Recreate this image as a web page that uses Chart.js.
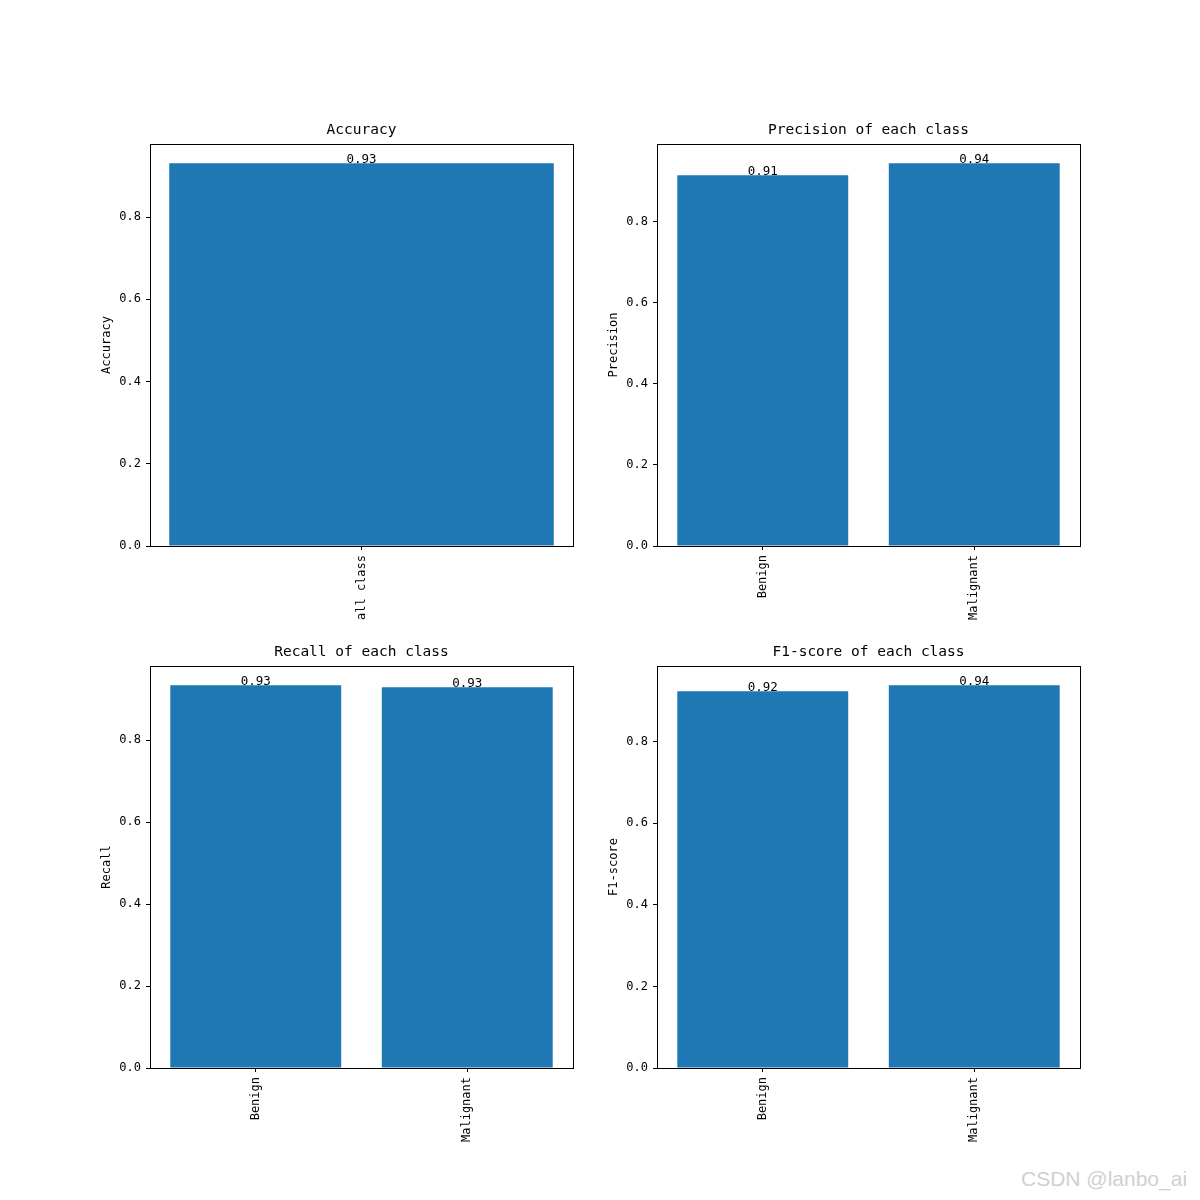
<!DOCTYPE html>
<html>
<head>
<meta charset="utf-8">
<script src="https://cdn.jsdelivr.net/npm/chart.js@4.4.0/dist/chart.umd.min.js"></script>
<style>
  body { margin: 0; background: #fff; }
  #pagina { position: relative; width: 1200px; height: 1200px; background: #fff; }
  canvas { position: absolute; }
  #marca { position: absolute; left: 1021px; top: 1167px; font-family: "Liberation Sans", Arial, sans-serif; font-size: 21px; color: #d0d0d0; }
</style>
</head>
<body>
<div id="pagina">
  <canvas id="g-acc" width="543" height="526" style="left:90px;top:110px"></canvas>
  <canvas id="g-prec" width="543" height="526" style="left:597px;top:110px"></canvas>
  <canvas id="g-rec" width="543" height="526" style="left:90px;top:632px"></canvas>
  <canvas id="g-f1" width="543" height="526" style="left:597px;top:632px"></canvas>
  <div id="marca">CSDN @lanbo_ai</div>
</div>
<script>
// Dados
const classesTodas = ["all class"];
const classes = ["Benign", "Malignant"];
const acuracia = [0.931];
const precisao = [0.914, 0.944];
const revocacao = [0.934, 0.929];
const f1 = [0.924, 0.939];

const azul = "#1f77b4";
Chart.defaults.font.family = "'DejaVu Sans Mono', monospace";
Chart.defaults.color = "#000";

// Caixa em volta da área do gráfico (como o matplotlib)
const caixa = {
    id: "caixa",
    afterDraw(chart) {
        const a = chart.chartArea;
        const ctx = chart.ctx;
        ctx.save();
        ctx.strokeStyle = "#000";
        ctx.lineWidth = 1;
        ctx.strokeRect(Math.round(a.left) + 0.5, Math.round(a.top) + 0.5,
            Math.round(a.right - a.left), Math.round(a.bottom - a.top));
        ctx.restore();
    }
};

// Valores em cima das barras
const rotulos = {
    id: "rotulos",
    afterDatasetsDraw(chart) {
        const ctx = chart.ctx;
        const meta = chart.getDatasetMeta(0);
        const valores = chart.data.datasets[0].data;
        ctx.save();
        ctx.font = "12.5px 'DejaVu Sans Mono', monospace";
        ctx.fillStyle = "#000";
        ctx.textAlign = "center";
        ctx.textBaseline = "alphabetic";
        meta.data.forEach(function (barra, i) {
            ctx.fillText(valores[i].toFixed(2), barra.x, barra.y);
        });
        ctx.restore();
    }
};

function gerarGrafico(id, titulo, rotuloY, categorias, valores) {
    const n = categorias.length;
    const ctx = document.getElementById(id).getContext("2d");
    new Chart(ctx, {
        type: "bar",
        data: {
            labels: categorias,
            datasets: [{
                data: valores,
                backgroundColor: azul,
                borderWidth: 0,
                barPercentage: 0.8 * n / (1.1 * (n - 0.2)),
                categoryPercentage: 1,
            }],
        },
        options: {
            responsive: false,
            animation: false,
            devicePixelRatio: 1,
            layout: { padding: 0 },
            plugins: {
                legend: { display: false },
                tooltip: { enabled: false },
                title: {
                    display: true,
                    text: titulo,
                    color: "#000",
                    font: { size: 14.5, weight: "normal" },
                    padding: { top: 12, bottom: 4.6 },
                },
            },
            scales: {
                x: {
                    grid: { offset: false, drawOnChartArea: false, drawTicks: true, tickLength: 4, color: "#000" },
                    border: { display: true, color: "#000" },
                    ticks: { maxRotation: 90, minRotation: 90, padding: 5, font: { size: 12 }, color: "#000" },
                    afterFit: function (s) { s.height = 90; },
                },
                y: {
                    min: 0,
                    max: 1.05 * Math.max.apply(null, valores),
                    grid: { drawOnChartArea: false, drawTicks: true, tickLength: 4, color: "#000" },
                    border: { display: true, color: "#000" },
                    ticks: {
                        stepSize: 0.2,
                        includeBounds: false,
                        padding: 5,
                        font: { size: 12 },
                        color: "#000",
                        callback: function (v) { return v.toFixed(1); },
                    },
                    title: { display: true, text: rotuloY, font: { size: 12 }, color: "#000", padding: { top: 10, bottom: 4 } },
                    afterFit: function (s) { s.width = 60; },
                },
                // eixo vazio à direita só para centralizar o título sobre a área do gráfico
                margem: {
                    type: "linear",
                    position: "right",
                    grid: { display: false },
                    border: { display: false },
                    ticks: { display: false },
                    afterFit: function (s) { s.width = 60; },
                },
            },
        },
        plugins: [caixa, rotulos],
    });
}

gerarGrafico("g-acc", "Accuracy", "Accuracy", classesTodas, acuracia);
gerarGrafico("g-prec", "Precision of each class", "Precision", classes, precisao);
gerarGrafico("g-rec", "Recall of each class", "Recall", classes, revocacao);
gerarGrafico("g-f1", "F1-score of each class", "F1-score", classes, f1);
</script>
</body>
</html>
